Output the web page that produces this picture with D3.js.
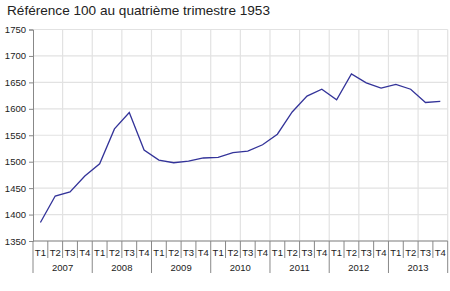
<!DOCTYPE html>
<html>
<head>
<meta charset="utf-8">
<script src="https://cdn.jsdelivr.net/npm/d3@7"></script>
<style>
  body { margin: 0; background: #fff; }
  svg { font-family: "Liberation Sans", Arial, sans-serif; }
</style>
</head>
<body>
<svg width="450" height="291"></svg>
<script>
// data
var years = ["2007", "2008", "2009", "2010", "2011", "2012", "2013"]
var quarters = ["T1", "T2", "T3", "T4"]
var values = [
  1385, 1435, 1443, 1473,
  1496, 1562, 1593, 1522,
  1503, 1498, 1501, 1507,
  1508, 1517, 1520, 1532,
  1552, 1594, 1624, 1637,
  1617, 1666, 1649, 1639,
  1646, 1637, 1612, 1614
]
var yTicks = [1350, 1400, 1450, 1500, 1550, 1600, 1650, 1700, 1750]

var margin = { left: 33, right: 2.3, top: 29.5, bottom: 50 }
var width = 450, height = 291
var plotBottom = 241

var svg = d3.select("svg")

var keys = []
years.forEach(function (y) {
  quarters.forEach(function (q) { keys.push(y + "-" + q) })
})
var data = keys.map(function (k, i) { return { key: k, value: values[i] } })

var x = d3.scaleBand()
  .domain(keys)
  .range([margin.left, width - margin.right])

var y = d3.scaleLinear()
  .domain([1350, 1750])
  .range([plotBottom, margin.top])

// title
svg.append("text")
  .attr("x", 7)
  .attr("y", 15)
  .attr("font-size", 13.6)
  .attr("fill", "#222")
  .text("Référence 100 au quatrième trimestre 1953")

// horizontal grid
svg.append("g")
  .selectAll("line")
  .data(yTicks)
  .join("line")
  .attr("x1", margin.left)
  .attr("x2", width - margin.right)
  .attr("y1", d => y(d))
  .attr("y2", d => y(d))
  .attr("stroke", "#e2e2e2")
  .attr("stroke-width", 1.2)

// vertical grid, every two quarters
var gridKeys = keys.filter((k, i) => i % 2 == 0 && i > 0)
svg.append("g")
  .selectAll("line")
  .data(gridKeys)
  .join("line")
  .attr("x1", d => x(d))
  .attr("x2", d => x(d))
  .attr("y1", margin.top)
  .attr("y2", plotBottom)
  .attr("stroke", "#e2e2e2")
  .attr("stroke-width", 1.2)

svg.append("line")
  .attr("x1", width - margin.right).attr("x2", width - margin.right)
  .attr("y1", margin.top).attr("y2", plotBottom)
  .attr("stroke", "#e2e2e2")
  .attr("stroke-width", 1.2)

// y axis
var yAxis = d3.axisLeft(y)
  .tickValues(yTicks)
  .tickSize(4)
  .tickPadding(3)
  .tickFormat(d3.format("d"))

var yg = svg.append("g")
  .attr("transform", "translate(" + margin.left + ",0)")
  .call(yAxis)
yg.select(".domain").attr("stroke", "#888")
yg.selectAll(".tick line").attr("stroke", "#888")
yg.selectAll(".tick text").attr("font-size", 9.5).attr("fill", "#222")

// bottom axis line
svg.append("line")
  .attr("x1", margin.left).attr("x2", width - margin.right)
  .attr("y1", plotBottom).attr("y2", plotBottom)
  .attr("stroke", "#888")

// quarter separators
var step = x.bandwidth()
svg.append("g")
  .selectAll("line")
  .data(keys.slice(1))
  .join("line")
  .attr("x1", d => x(d))
  .attr("x2", d => x(d))
  .attr("y1", plotBottom)
  .attr("y2", d => d.endsWith("T1") ? 273 : 258)
  .attr("stroke", "#888")

svg.append("line")
  .attr("x1", margin.left).attr("x2", margin.left)
  .attr("y1", plotBottom).attr("y2", 273)
  .attr("stroke", "#888")
svg.append("line")
  .attr("x1", width - margin.right).attr("x2", width - margin.right)
  .attr("y1", plotBottom).attr("y2", 273)
  .attr("stroke", "#888")

// quarter labels
svg.append("g")
  .selectAll("text")
  .data(keys)
  .join("text")
  .attr("x", d => x(d) + step / 2)
  .attr("y", 256)
  .attr("text-anchor", "middle")
  .attr("font-size", 9.5)
  .attr("fill", "#222")
  .text(d => d.split("-")[1])

// year labels
svg.append("g")
  .selectAll("text")
  .data(years)
  .join("text")
  .attr("x", d => x(d + "-T1") + step * 2)
  .attr("y", 270.5)
  .attr("text-anchor", "middle")
  .attr("font-size", 9.5)
  .attr("fill", "#222")
  .text(d => d)

// series line
var line = d3.line()
  .x(d => x(d.key) + step / 2)
  .y(d => y(d.value))

svg.append("path")
  .datum(data)
  .attr("d", line)
  .attr("fill", "none")
  .attr("stroke", "#333399")
  .attr("stroke-width", 1.3)
</script>
</body>
</html>
